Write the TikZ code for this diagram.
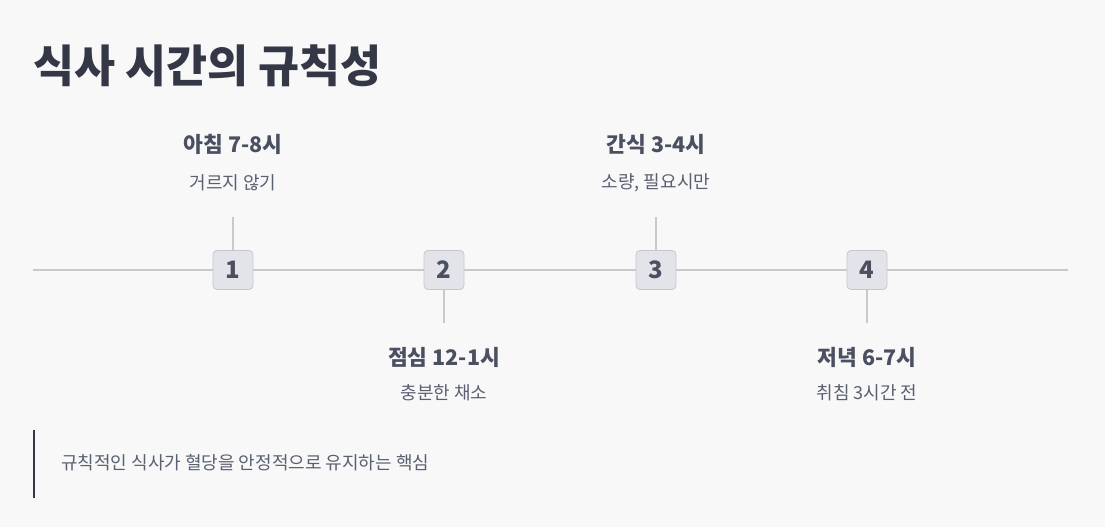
\documentclass[tikz,border=0pt]{standalone}
\usepackage{fontspec}
\setmainfont{Noto Sans CJK KR}
\definecolor{bg}{HTML}{F8F8F9}
\definecolor{titlec}{HTML}{343846}
\definecolor{labc}{HTML}{4A5060}
\definecolor{subc}{HTML}{596070}
\definecolor{linec}{HTML}{C8C8CD}
\definecolor{boxfill}{HTML}{E3E4EA}
\definecolor{boxdraw}{HTML}{C6C8D0}
\tikzset{
  numbox/.style={draw=boxdraw, fill=boxfill, line width=0.8pt, rounded corners=4pt, minimum width=40pt, minimum height=39pt, inner sep=0pt, text=labc, font=\fontsize{24}{24}\selectfont\bfseries},
  evtitle/.style={text=labc, font=\fontsize{21.5}{21.5}\selectfont\bfseries, inner sep=0pt},
  evsub/.style={text=subc, font=\fontsize{18}{18}\selectfont, inner sep=0pt},
  tick/.style={draw=linec, line width=1.3pt},
}
\begin{document}
\begin{tikzpicture}[x=1pt,y=-1pt]
\fill[bg] (0,0) rectangle (1105,527);
\useasboundingbox (0,0) rectangle (1105,527);
% title
\node[anchor=west, text=titlec, font=\fontsize{44.6}{44.6}\selectfont\bfseries, inner sep=0pt] (title) at (33,66) {식사 시간의 규칙성};
% timeline
\coordinate (ls) at (33,270);
\coordinate (le) at (1068,270);
\draw[tick] (ls) -- (le);
% boxes
\node[numbox] (b1) at (233,270) {1};
\node[numbox] (b2) at (444,270) {2};
\node[numbox] (b3) at (656,270) {3};
\node[numbox] (b4) at (867,270) {4};
% ticks
\coordinate (t1) at (233,217);
\coordinate (t2) at (444,323);
\coordinate (t3) at (656,217);
\coordinate (t4) at (867,323);
\draw[tick] (b1.north) -- (t1);
\draw[tick] (b2.south) -- (t2);
\draw[tick] (b3.north) -- (t3);
\draw[tick] (b4.south) -- (t4);
% labels
\node[evtitle] (l1) at (233,144) {아침 7-8시};
\node[evsub] (s1) at (233,183) {거르지 않기};
\node[evtitle] (l2) at (444,357) {점심 12-1시};
\node[evsub] (s2) at (444,393) {충분한 채소};
\node[evtitle] (l3) at (656,144) {간식 3-4시};
\node[evsub] (s3) at (656,183) {소량, 필요시만};
\node[evtitle] (l4) at (867,357) {저녁 6-7시};
\node[evsub] (s4) at (867,393) {취침 3시간 전};
% quote
\coordinate (q1) at (34,430);
\coordinate (q2) at (34,498);
\draw[titlec, line width=2pt] (q1) -- (q2);
\node[evsub, anchor=west] (quote) at (61,463) {규칙적인 식사가 혈당을 안정적으로 유지하는 핵심};
\end{tikzpicture}
\end{document}
